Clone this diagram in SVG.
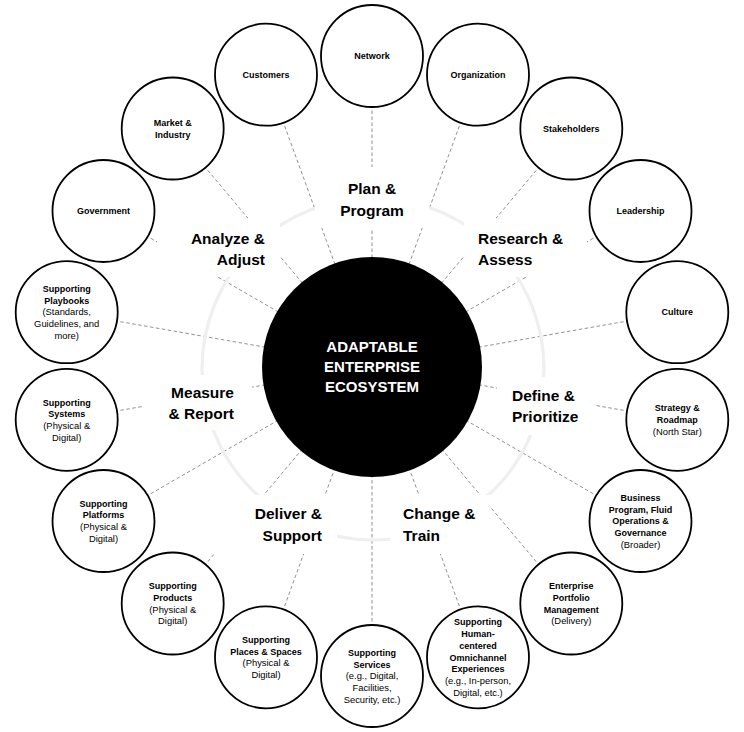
<svg xmlns="http://www.w3.org/2000/svg" width="744" height="732" viewBox="0 0 744 732">
<style>
.conn line{stroke:#858585;stroke-width:0.9;stroke-dasharray:3.5 2.5;fill:none}
.ring{fill:none;stroke:#efefef;stroke-width:3.2}
.mask{fill:#fff}
.phase text{font-family:"Liberation Sans",Arial,sans-serif;font-weight:bold;font-size:15.5px;fill:#000}
.node circle{fill:#fff;stroke:#000;stroke-width:1.8}
.node text{font-family:"Liberation Sans",Arial,sans-serif;font-size:9.4px;fill:#000;text-anchor:middle}
.node text.b{font-weight:bold;font-size:9px}
.core circle{fill:#000}
.core text{font-family:"Liberation Sans",Arial,sans-serif;font-weight:bold;font-size:15px;fill:#fff;text-anchor:middle}
</style>
<rect width="744" height="732" fill="#fff"/>
<g id="connectors" class="conn">
<line x1="372" y1="366" x2="372" y2="56"/>
<line x1="372" y1="366" x2="478" y2="74.7"/>
<line x1="372" y1="366" x2="571.3" y2="128.5"/>
<line x1="372" y1="366" x2="640.5" y2="211"/>
<line x1="372" y1="366" x2="677.3" y2="312.2"/>
<line x1="372" y1="366" x2="677.3" y2="419.8"/>
<line x1="372" y1="366" x2="640.5" y2="521"/>
<line x1="372" y1="366" x2="571.3" y2="603.5"/>
<line x1="372" y1="366" x2="478" y2="657.3"/>
<line x1="372" y1="366" x2="372" y2="676"/>
<line x1="372" y1="366" x2="266" y2="657.3"/>
<line x1="372" y1="366" x2="172.7" y2="603.5"/>
<line x1="372" y1="366" x2="103.5" y2="521"/>
<line x1="372" y1="366" x2="66.7" y2="419.8"/>
<line x1="372" y1="366" x2="66.7" y2="312.2"/>
<line x1="372" y1="366" x2="103.5" y2="211"/>
<line x1="372" y1="366" x2="172.7" y2="128.5"/>
<line x1="372" y1="366" x2="266" y2="74.7"/>
</g>
<circle class="ring" cx="373" cy="369" r="171"/>
<g id="phase-plan" class="phase"><rect class="mask" x="315" y="167" width="114" height="61"/><text x="372" y="194" text-anchor="middle">Plan &amp;</text><text x="372" y="216" text-anchor="middle">Program</text></g>
<g id="phase-analyze" class="phase"><rect class="mask" x="157" y="218" width="123" height="59"/><text x="265" y="244" text-anchor="end">Analyze &amp;</text><text x="265" y="265" text-anchor="end">Adjust</text></g>
<g id="phase-research" class="phase"><rect class="mask" x="464" y="218" width="123" height="59"/><text x="478" y="244">Research &amp;</text><text x="478" y="265">Assess</text></g>
<g id="phase-measure" class="phase"><rect class="mask" x="143" y="375" width="109" height="55"/><text x="234" y="398" text-anchor="end">Measure</text><text x="234" y="419" text-anchor="end">&amp; Report</text></g>
<g id="phase-define" class="phase"><rect class="mask" x="497" y="377" width="97" height="58"/><text x="512" y="401">Define &amp;</text><text x="512" y="422">Prioritize</text></g>
<g id="phase-deliver" class="phase"><rect class="mask" x="200" y="495" width="137" height="59"/><text x="322" y="519" text-anchor="end">Deliver &amp;</text><text x="322" y="541" text-anchor="end">Support</text></g>
<g id="phase-change" class="phase"><rect class="mask" x="390" y="495" width="100" height="59"/><text x="403" y="519">Change &amp;</text><text x="403" y="541">Train</text></g>
<g id="core" class="core"><circle cx="372" cy="367" r="110"/><text x="372" y="352">ADAPTABLE</text><text x="372" y="372">ENTERPRISE</text><text x="372" y="392">ECOSYSTEM</text></g>
<g id="n-network" class="node"><circle cx="372" cy="56" r="51"/><text class="b" x="372" y="59.2">Network</text></g>
<g id="n-organization" class="node"><circle cx="478" cy="74.7" r="51"/><text class="b" x="478" y="77.9">Organization</text></g>
<g id="n-stakeholders" class="node"><circle cx="571.3" cy="128.5" r="51"/><text class="b" x="571.3" y="131.7">Stakeholders</text></g>
<g id="n-leadership" class="node"><circle cx="640.5" cy="211" r="51"/><text class="b" x="640.5" y="214.2">Leadership</text></g>
<g id="n-culture" class="node"><circle cx="677.3" cy="312.2" r="51"/><text class="b" x="677.3" y="315.4">Culture</text></g>
<g id="n-strategy" class="node"><circle cx="677.3" cy="419.8" r="51"/><text class="b" x="677.3" y="411.3">Strategy &amp;</text><text class="b" x="677.3" y="423">Roadmap</text><text x="677.3" y="434.7">(North Star)</text></g>
<g id="n-business" class="node"><circle cx="640.5" cy="521" r="51"/><text class="b" x="640.5" y="500.8">Business</text><text class="b" x="640.5" y="512.5">Program, Fluid</text><text class="b" x="640.5" y="524.2">Operations &amp;</text><text class="b" x="640.5" y="535.9">Governance</text><text x="640.5" y="547.6">(Broader)</text></g>
<g id="n-portfolio" class="node"><circle cx="571.3" cy="603.5" r="51"/><text class="b" x="571.3" y="589.2">Enterprise</text><text class="b" x="571.3" y="600.9">Portfolio</text><text class="b" x="571.3" y="612.6">Management</text><text x="571.3" y="624.3">(Delivery)</text></g>
<g id="n-experiences" class="node"><circle cx="478" cy="657.3" r="51"/><text class="b" x="478" y="625.4">Supporting</text><text class="b" x="478" y="637.1">Human-</text><text class="b" x="478" y="648.8">centered</text><text class="b" x="478" y="660.5">Omnichannel</text><text class="b" x="478" y="672.2">Experiences</text><text x="478" y="683.9">(e.g., In-person,</text><text x="478" y="695.6">Digital, etc.)</text></g>
<g id="n-services" class="node"><circle cx="372" cy="676" r="51"/><text class="b" x="372" y="655.8">Supporting</text><text class="b" x="372" y="667.5">Services</text><text x="372" y="679.2">(e.g., Digital,</text><text x="372" y="690.9">Facilities,</text><text x="372" y="702.6">Security, etc.)</text></g>
<g id="n-places" class="node"><circle cx="266" cy="657.3" r="51"/><text class="b" x="266" y="643">Supporting</text><text class="b" x="266" y="654.7">Places &amp; Spaces</text><text x="266" y="666.4">(Physical &amp;</text><text x="266" y="678.1">Digital)</text></g>
<g id="n-products" class="node"><circle cx="172.7" cy="603.5" r="51"/><text class="b" x="172.7" y="589.2">Supporting</text><text class="b" x="172.7" y="600.9">Products</text><text x="172.7" y="612.6">(Physical &amp;</text><text x="172.7" y="624.3">Digital)</text></g>
<g id="n-platforms" class="node"><circle cx="103.5" cy="521" r="51"/><text class="b" x="103.5" y="506.6">Supporting</text><text class="b" x="103.5" y="518.3">Platforms</text><text x="103.5" y="530">(Physical &amp;</text><text x="103.5" y="541.7">Digital)</text></g>
<g id="n-systems" class="node"><circle cx="66.7" cy="419.8" r="51"/><text class="b" x="66.7" y="405.5">Supporting</text><text class="b" x="66.7" y="417.2">Systems</text><text x="66.7" y="428.9">(Physical &amp;</text><text x="66.7" y="440.6">Digital)</text></g>
<g id="n-playbooks" class="node"><circle cx="66.7" cy="312.2" r="51"/><text class="b" x="66.7" y="292">Supporting</text><text class="b" x="66.7" y="303.7">Playbooks</text><text x="66.7" y="315.4">(Standards,</text><text x="66.7" y="327.1">Guidelines, and</text><text x="66.7" y="338.8">more)</text></g>
<g id="n-government" class="node"><circle cx="103.5" cy="211" r="51"/><text class="b" x="103.5" y="214.2">Government</text></g>
<g id="n-market" class="node"><circle cx="172.7" cy="128.5" r="51"/><text class="b" x="172.7" y="125.9">Market &amp;</text><text class="b" x="172.7" y="137.6">Industry</text></g>
<g id="n-customers" class="node"><circle cx="266" cy="74.7" r="51"/><text class="b" x="266" y="77.9">Customers</text></g>
</svg>
